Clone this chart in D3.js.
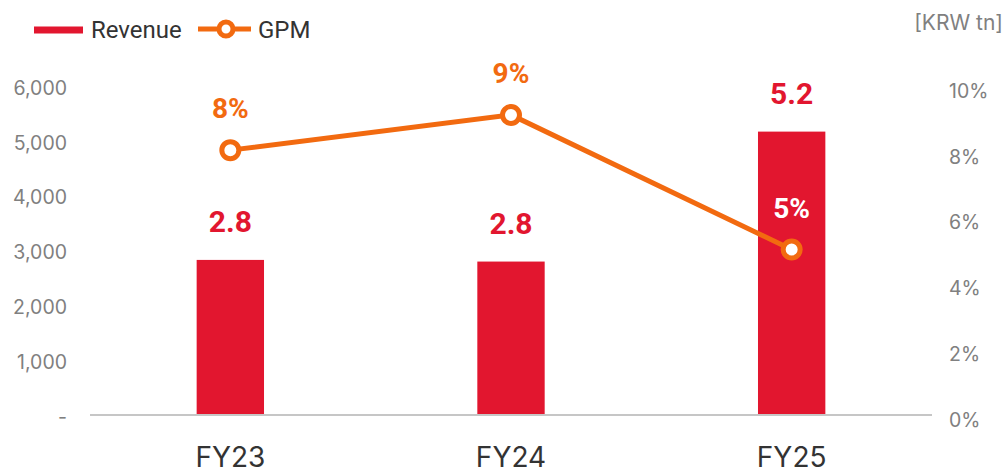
<!DOCTYPE html>
<html><head><meta charset="utf-8">
<script src="https://cdn.jsdelivr.net/npm/d3@7"></script>
<style>
html,body{margin:0;padding:0;background:#fff;}
svg{display:block;font-family:Roboto, "Liberation Sans", sans-serif;}
.inter{font-family:Inter, Roboto, sans-serif;}
</style></head>
<body>
<svg id="chart" width="1004" height="473"></svg>
<script>
const categories = ["FY23", "FY24", "FY25"];
const revenue = [2810, 2780, 5150];          // KRW bn (left axis)
const revenueLabels = ["2.8", "2.8", "5.2"];  // KRW tn
const gpm = [8.02, 9.09, 5.0];                // %
const gpmLabels = ["8%", "9%", "5%"];
const leftTicks = [0, 1000, 2000, 3000, 4000, 5000, 6000];
const rightTicks = [0, 2, 4, 6, 8, 10];

(function () {
const RED = "#e2162f", ORANGE = "#f26a10", GRAY = "#808080", DARK = "#333333";
const svg = d3.select("#chart");
const plotLeft = 90, plotRight = 932, plotBase = 414, plotTop = 85;

const x = d3.scaleBand().domain(categories).range([plotLeft, plotRight]).paddingInner(0.76).paddingOuter(0.38);
const yL = d3.scaleLinear().domain([0, 6000]).range([plotBase, plotTop]);
const yR = d3.scaleLinear().domain([0, 10]).range([plotBase, plotTop]);

// left axis labels
const fmtL = v => v === 0 ? "-" : d3.format(",")(v);
svg.append("g").attr("class", "inter").selectAll("text").data(leftTicks).join("text")
  .attr("x", 67).attr("y", d => yL(d) + 3).attr("dy", "0.35em")
  .attr("text-anchor", "end").attr("font-size", 19.5).attr("fill", GRAY)
  .text(fmtL);
// right axis labels
svg.append("g").attr("class", "inter").selectAll("text").data(rightTicks).join("text")
  .attr("x", 949).attr("y", d => yR(d) + 6).attr("dy", "0.35em")
  .attr("text-anchor", "start").attr("font-size", 19.5).attr("fill", GRAY)
  .text(d => d + "%");

// bars
svg.append("g").selectAll("rect").data(revenue).join("rect")
  .attr("x", (d, i) => x(categories[i])).attr("width", x.bandwidth())
  .attr("y", d => yL(d)).attr("height", d => plotBase - yL(d)).attr("fill", RED);

// baseline
svg.append("line").attr("x1", plotLeft).attr("x2", plotRight).attr("y1", plotBase + 1).attr("y2", plotBase + 1)
  .attr("stroke", "#c6c6c6").attr("stroke-width", 2);

// bar labels
svg.append("g").selectAll("text").data(revenue).join("text")
  .attr("x", (d, i) => x(categories[i]) + x.bandwidth() / 2).attr("y", d => yL(d) - 28)
  .attr("text-anchor", "middle").attr("font-size", 30).attr("font-weight", 700).attr("fill", RED)
  .text((d, i) => revenueLabels[i]);

// x labels
svg.append("g").attr("class", "inter").selectAll("text").data(categories).join("text")
  .attr("x", d => x(d) + x.bandwidth() / 2).attr("y", 467)
  .attr("text-anchor", "middle").attr("font-size", 28).attr("fill", DARK)
  .text(d => d);

// GPM line
const cx = (d, i) => x(categories[i]) + x.bandwidth() / 2;
svg.append("path").datum(gpm)
  .attr("d", d3.line().x(cx).y(d => yR(d)))
  .attr("fill", "none").attr("stroke", ORANGE).attr("stroke-width", 5);
svg.append("g").selectAll("circle").data(gpm).join("circle")
  .attr("cx", cx).attr("cy", d => yR(d)).attr("r", 8.5)
  .attr("fill", "#fff").attr("stroke", ORANGE).attr("stroke-width", 5);
svg.append("g").selectAll("text").data(gpm).join("text")
  .attr("x", cx).attr("y", d => yR(d) - 32)
  .attr("text-anchor", "middle").attr("font-size", 28).attr("font-weight", 700)
  .attr("fill", (d, i) => i === 2 ? "#fff" : ORANGE)
  .text((d, i) => gpmLabels[i]);

// legend
const lg = svg.append("g");
lg.append("line").attr("x1", 34).attr("x2", 83).attr("y1", 30).attr("y2", 30)
  .attr("stroke", RED).attr("stroke-width", 7);
lg.append("text").attr("x", 91).attr("y", 38).attr("font-size", 24).attr("fill", DARK).text("Revenue");
lg.append("line").attr("x1", 198).attr("x2", 251).attr("y1", 29).attr("y2", 29)
  .attr("stroke", ORANGE).attr("stroke-width", 5);
lg.append("circle").attr("cx", 226).attr("cy", 29).attr("r", 7)
  .attr("fill", "#fff").attr("stroke", ORANGE).attr("stroke-width", 5);
lg.append("text").attr("x", 258).attr("y", 38).attr("font-size", 24).attr("fill", DARK).text("GPM");

// unit
svg.append("text").attr("class", "inter").attr("x", 1003).attr("y", 30).attr("text-anchor", "end")
  .attr("font-size", 21).attr("fill", GRAY).text("[KRW tn]");
})();
</script>
</body></html>
